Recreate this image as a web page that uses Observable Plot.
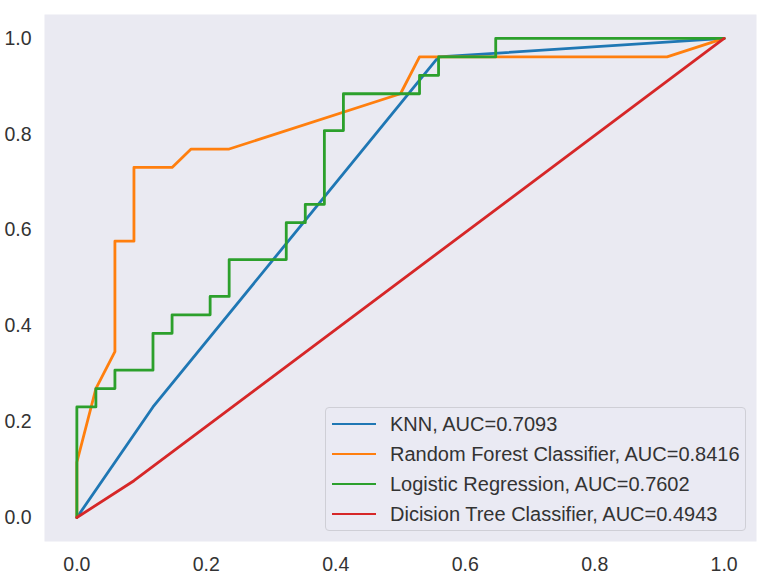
<!DOCTYPE html>
<html>
<head>
<meta charset="utf-8">
<script src="https://cdn.jsdelivr.net/npm/d3@7"></script>
<script src="https://cdn.jsdelivr.net/npm/@observablehq/plot@0.6"></script>
<style>
  html, body { margin: 0; padding: 0; background: #ffffff; }
  #wrap { position: relative; width: 762px; height: 575px; font-family: "Liberation Sans", Arial, sans-serif; }
  #legend { position: absolute; left: 325px; top: 407px; width: 421px; height: 124px;
    border: 1px solid #cfcfd6; border-radius: 4px; background: rgba(234,234,242,0.8); box-sizing: border-box; }
  .row { position: absolute; left: 0; height: 30px; display: flex; align-items: center; }
  .sw { position: absolute; left: 6px; width: 44px; height: 0; border-top: 2.8px solid; }
  .lab { position: absolute; left: 64px; white-space: nowrap; font-size: 20px; color: #333; line-height: 1; }
</style>
</head>
<body>
<div id="wrap"></div>
<script>
// ROC curves (false positive rate, true positive rate)
const knnFpr = [0, 0.1176, 0.5588, 1];
const knnTpr = [0, 0.2308, 0.9615, 1];

const rfFpr = [0, 0, 0.0294, 0.0588, 0.0588, 0.0882, 0.0882, 0.1471, 0.1765, 0.2353, 0.5, 0.5294, 0.9118, 1];
const rfTpr = [0, 0.1154, 0.2692, 0.3462, 0.5769, 0.5769, 0.7308, 0.7308, 0.7692, 0.7692, 0.8846, 0.9615, 0.9615, 1];

const lrFpr = [0, 0, 0.0294, 0.0294, 0.0588, 0.0588, 0.1176, 0.1176, 0.1471, 0.1471, 0.2059, 0.2059, 0.2353, 0.2353,
  0.3235, 0.3235, 0.3529, 0.3529, 0.3824, 0.3824, 0.4118, 0.4118, 0.5294, 0.5294, 0.5588, 0.5588, 0.6471, 0.6471, 1];
const lrTpr = [0, 0.2308, 0.2308, 0.2692, 0.2692, 0.3077, 0.3077, 0.3846, 0.3846, 0.4231, 0.4231, 0.4615, 0.4615, 0.5385,
  0.5385, 0.6154, 0.6154, 0.6538, 0.6538, 0.8077, 0.8077, 0.8846, 0.8846, 0.9231, 0.9231, 0.9615, 0.9615, 1, 1];

const dtFpr = [0, 0.0882, 1];
const dtTpr = [0, 0.0769, 1];

const seriesNames = ["KNN, AUC=0.7093", "Random Forest Classifier, AUC=0.8416", "Logistic Regression, AUC=0.7602", "Dicision Tree Classifier, AUC=0.4943"];
const seriesColors = ["#1f77b4", "#ff7f0e", "#2ca02c", "#d62728"];
const tickValues = [0, 0.2, 0.4, 0.6, 0.8, 1.0];

const curves = [[knnFpr, knnTpr], [rfFpr, rfTpr], [lrFpr, lrTpr], [dtFpr, dtTpr]];
const toPts = ([xs, ys]) => xs.map((x, i) => ({x, y: ys[i]}));

const fmt = d3.format(".1f");
const chart = Plot.plot({
  width: 762,
  height: 575,
  marginLeft: 44,
  marginRight: 6,
  marginTop: 14,
  marginBottom: 34,
  style: {fontFamily: '"Liberation Sans", Arial, sans-serif', fontSize: "19.5px", color: "#333", background: "#ffffff", overflow: "visible"},
  x: {domain: [-0.05, 1.05]},
  y: {domain: [-0.05, 1.05]},
  marks: [
    Plot.frame({fill: "#EAEAF2", stroke: null}),
    ...curves.map((c, i) => Plot.line(toPts(c), {x: "x", y: "y", stroke: seriesColors[i], strokeWidth: 2.8, curve: "linear"})),
    Plot.axisX({ticks: tickValues, tickFormat: fmt, tickSize: 0, tickPadding: 16, label: null, fill: "#333"}),
    Plot.axisY({ticks: tickValues, tickFormat: fmt, tickSize: 0, tickPadding: 13, label: null, fill: "#333"})
  ]
});

const wrap = document.getElementById("wrap");
wrap.appendChild(chart);

const legend = document.createElement("div");
legend.id = "legend";
seriesNames.forEach((name, i) => {
  const row = document.createElement("div");
  row.className = "row";
  row.style.top = (1 + 30 * i) + "px";
  const sw = document.createElement("div");
  sw.className = "sw";
  sw.style.borderTopColor = seriesColors[i];
  const lab = document.createElement("div");
  lab.className = "lab";
  lab.textContent = name;
  row.appendChild(sw);
  row.appendChild(lab);
  legend.appendChild(row);
});
wrap.appendChild(legend);
</script>
</body>
</html>
